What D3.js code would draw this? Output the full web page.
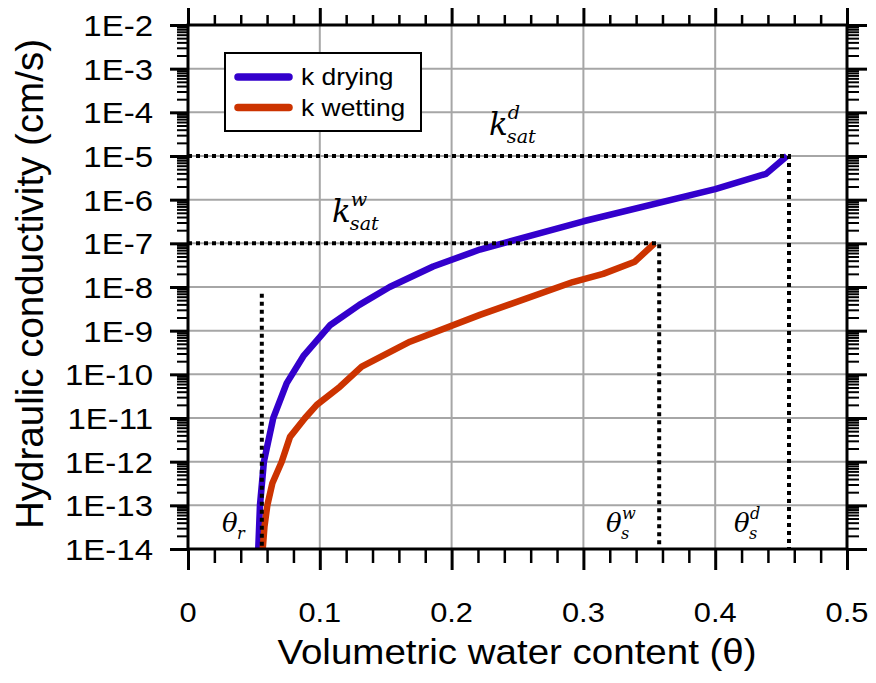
<!DOCTYPE html>
<html>
<head>
<meta charset="utf-8">
<script src="https://cdn.jsdelivr.net/npm/d3@7/dist/d3.min.js"></script>
<style>
  html, body { margin: 0; padding: 0; background: #ffffff; }
  svg { display: block; }
</style>
</head>
<body>
<svg id="chart" width="876" height="683"></svg>
<script>
// ---------------- data ----------------
const seriesNames = ["k drying", "k wetting"];
const thetaDry = [0.0533, 0.0546, 0.0576, 0.0647, 0.0749, 0.0875, 0.108, 0.130, 0.153, 0.186, 0.2215, 0.300, 0.400, 0.4386, 0.4545];
const kDry     = [1e-14, 1e-13, 1e-12, 1e-11, 6.3e-11, 2.6e-10, 1.35e-9, 3.9e-9, 1.0e-8, 2.95e-8, 7.2e-8, 3.2e-7, 1.75e-6, 3.9e-6, 1.0e-5];
const thetaWet = [0.0567, 0.0580, 0.0602, 0.0640, 0.0711, 0.0774, 0.0888, 0.0977, 0.1153, 0.1318, 0.1684, 0.2215, 0.292, 0.315, 0.339, 0.354];
const kWet     = [1e-14, 3.2e-14, 1e-13, 3.2e-13, 1e-12, 3.7e-12, 1e-11, 2.0e-11, 5.2e-11, 1.5e-10, 5.6e-10, 2.3e-9, 1.3e-8, 2.0e-8, 3.8e-8, 1.0e-7];

const xTicks = [0, 0.1, 0.2, 0.3, 0.4, 0.5];
const xTickLabels = ["0", "0.1", "0.2", "0.3", "0.4", "0.5"];
const yTicks = [1e-2, 1e-3, 1e-4, 1e-5, 1e-6, 1e-7, 1e-8, 1e-9, 1e-10, 1e-11, 1e-12, 1e-13, 1e-14];
const yTickLabels = ["1E-2", "1E-3", "1E-4", "1E-5", "1E-6", "1E-7", "1E-8", "1E-9", "1E-10", "1E-11", "1E-12", "1E-13", "1E-14"];

const thetaR = 0.056, kThetaRTop = 7e-9;
const thetaSatW = 0.3575, kSatW = 1e-7;
const thetaSatD = 0.456, kSatD = 1e-5;

const xTitle = "Volumetric water content (\u03B8)";
const yTitle = "Hydraulic conductivity (cm/s)";

// ---------------- layout ----------------
const L = 188, R = 847, T = 25, B = 549;
const colors = ["#3300cc", "#cc3300"];
const SX = 1.1; // horizontal stretch of the original text

const svg = d3.select("#chart");
const x = d3.scaleLinear().domain([0, 0.5]).range([L, R]);
const y = d3.scaleLog().domain([1e-14, 1e-2]).range([B, T]);

// gridlines
const grid = svg.append("g").attr("stroke", "#a6a6a6").attr("stroke-width", 2);
grid.selectAll(".gx").data(xTicks.filter(v => v > 0 && v < 0.5)).join("line")
  .attr("x1", d => x(d)).attr("x2", d => x(d)).attr("y1", T).attr("y2", B);
grid.selectAll(".gy").data(yTicks.filter(v => v > 1e-14 && v < 1e-2)).join("line")
  .attr("y1", d => y(d)).attr("y2", d => y(d)).attr("x1", L).attr("x2", R);

// curves
const line = d3.line().x(d => x(d[0])).y(d => y(d[1])).curve(d3.curveLinear);
const series = [
  d3.zip(thetaDry, kDry),
  d3.zip(thetaWet, kWet)
];
svg.append("g").selectAll("path").data(series).join("path")
  .attr("d", line)
  .attr("fill", "none")
  .attr("stroke", (d, i) => colors[i])
  .attr("stroke-width", 6.5)
  .attr("stroke-linejoin", "round");

// dotted guide lines
const dots = svg.append("g").attr("stroke", "#000").attr("stroke-width", 4)
  .attr("stroke-dasharray", "4,4").attr("fill", "none");
dots.append("path").attr("d", `M${x(0)},${y(kSatD)}H${x(thetaSatD)}V${y(1e-14)}`);
dots.append("path").attr("d", `M${x(0)},${y(kSatW)}H${x(thetaSatW)}V${y(1e-14)}`);
dots.append("path").attr("d", `M${x(thetaR)},${y(kThetaRTop)}V${y(1e-14)}`);

// axes ticks
function minorX() { return d3.range(0, 0.5001, 0.02).filter(v => Math.abs(v * 10 - Math.round(v * 10)) > 1e-6); }
function minorY() {
  const out = [];
  for (let e = -14; e < -2; e++) for (let m = 2; m <= 9; m++) out.push(m * Math.pow(10, e));
  return out;
}
function styleAxis(g, w) {
  g.select(".domain").remove();
  g.selectAll(".tick line").attr("stroke", "#000").attr("stroke-width", w);
  g.selectAll(".tick text").remove();
}
svg.append("g").attr("transform", `translate(0,${B})`)
  .call(d3.axisBottom(x).tickValues(xTicks).tickSize(21).tickFormat("")).call(g => styleAxis(g, 3));
svg.append("g").attr("transform", `translate(0,${B})`)
  .call(d3.axisBottom(x).tickValues(minorX()).tickSize(14).tickFormat("")).call(g => styleAxis(g, 2.5));
svg.append("g").attr("transform", `translate(0,${T})`)
  .call(d3.axisTop(x).tickValues(xTicks).tickSize(17).tickFormat("")).call(g => styleAxis(g, 3));
svg.append("g").attr("transform", `translate(0,${T})`)
  .call(d3.axisTop(x).tickValues(minorX()).tickSize(10).tickFormat("")).call(g => styleAxis(g, 2.5));
svg.append("g").attr("transform", `translate(${L},0)`)
  .call(d3.axisLeft(y).tickValues(yTicks).tickSize(18).tickFormat("")).call(g => styleAxis(g, 3));
svg.append("g").attr("transform", `translate(${L},0)`)
  .call(d3.axisLeft(y).tickValues(minorY()).tickSize(11).tickFormat("")).call(g => styleAxis(g, 2));
svg.append("g").attr("transform", `translate(${R},0)`)
  .call(d3.axisRight(y).tickValues(yTicks).tickSize(20).tickFormat("")).call(g => styleAxis(g, 3));
svg.append("g").attr("transform", `translate(${R},0)`)
  .call(d3.axisRight(y).tickValues(minorY()).tickSize(12).tickFormat("")).call(g => styleAxis(g, 2));

// frame
svg.append("rect").attr("x", L).attr("y", T).attr("width", R - L).attr("height", B - T)
  .attr("fill", "none").attr("stroke", "#000").attr("stroke-width", 3);

// tick labels
const sans = "'Liberation Sans', Arial, sans-serif";
svg.append("g").selectAll("text").data(xTicks).join("text")
  .attr("transform", d => `translate(${x(d)},622) scale(${SX},1)`)
  .attr("text-anchor", "middle").attr("font-family", sans).attr("font-size", 28)
  .attr("fill", "#000").text((d, i) => xTickLabels[i]);
svg.append("g").selectAll("text").data(yTicks).join("text")
  .attr("transform", d => `translate(153,${y(d) + 11}) scale(${SX},1)`)
  .attr("text-anchor", "end").attr("font-family", sans).attr("font-size", 30)
  .attr("fill", "#000").text((d, i) => yTickLabels[i]);

// axis titles
svg.append("text").attr("transform", `translate(517,664) scale(${SX},1)`)
  .attr("text-anchor", "middle").attr("font-family", sans).attr("font-size", 35)
  .attr("fill", "#000").text(xTitle);
svg.append("text").attr("transform", `translate(43,284) rotate(-90)`)
  .attr("text-anchor", "middle").attr("font-family", sans).attr("font-size", 38.5)
  .attr("fill", "#000").text(yTitle);

// legend
const lg = svg.append("g");
lg.append("rect").attr("x", 225).attr("y", 53).attr("width", 196).attr("height", 78)
  .attr("fill", "#fff").attr("stroke", "#000").attr("stroke-width", 2);
const legendRows = lg.selectAll("g.row").data(seriesNames).join("g")
  .attr("transform", (d, i) => `translate(0,${77 + i * 30.5})`);
legendRows.append("line").attr("x1", 238).attr("x2", 289).attr("y1", 0).attr("y2", 0)
  .attr("stroke", (d, i) => colors[i]).attr("stroke-width", 7.5).attr("stroke-linecap", "round");
legendRows.append("text").attr("transform", `translate(301,8) scale(${SX + 0.05},1)`)
  .attr("font-family", sans).attr("font-size", 23).attr("fill", "#000").text(d => d);

// math annotations: base symbol, subscript and superscript stacked without overlap
const serif = "'DejaVu Serif', 'Liberation Serif', serif";
function mathLabel(base, sub, sup, bx, by, size) {
  const ss = size * 0.62;
  const g = svg.append("g");
  const mk = (txt, xx, yy, fs) => g.append("text").attr("x", xx).attr("y", yy)
    .attr("font-family", serif).attr("font-style", "italic").attr("font-size", fs)
    .attr("fill", "#000").text(txt);
  const b = mk(base, bx, by, size);
  const bb = b.node().getBBox();
  const sx = bb.x + bb.width - 1;
  let subTop = by;
  if (sub) {
    const s = mk(sub, sx, by + size * 0.25, ss);
    subTop = s.node().getBBox().y;
  }
  if (sup) {
    const p = mk(sup, sx + 1, by, ss);
    const pb = p.node().getBBox();
    // bottom of superscript box must sit above the subscript box
    const limit = sub ? subTop - 0.6 : by - size * 0.4 + (pb.y + pb.height - by);
    const shift = (pb.y + pb.height) - limit;
    p.attr("y", by - shift);
  }
}
mathLabel("k", "sat", "d", 489, 135, 31);
mathLabel("k", "sat", "w", 332, 222, 31);
mathLabel("\u03B8", "r", null, 222, 532, 26);
mathLabel("\u03B8", "s", "w", 606, 532, 26);
mathLabel("\u03B8", "s", "d", 734, 532, 26);
</script>
</body>
</html>
